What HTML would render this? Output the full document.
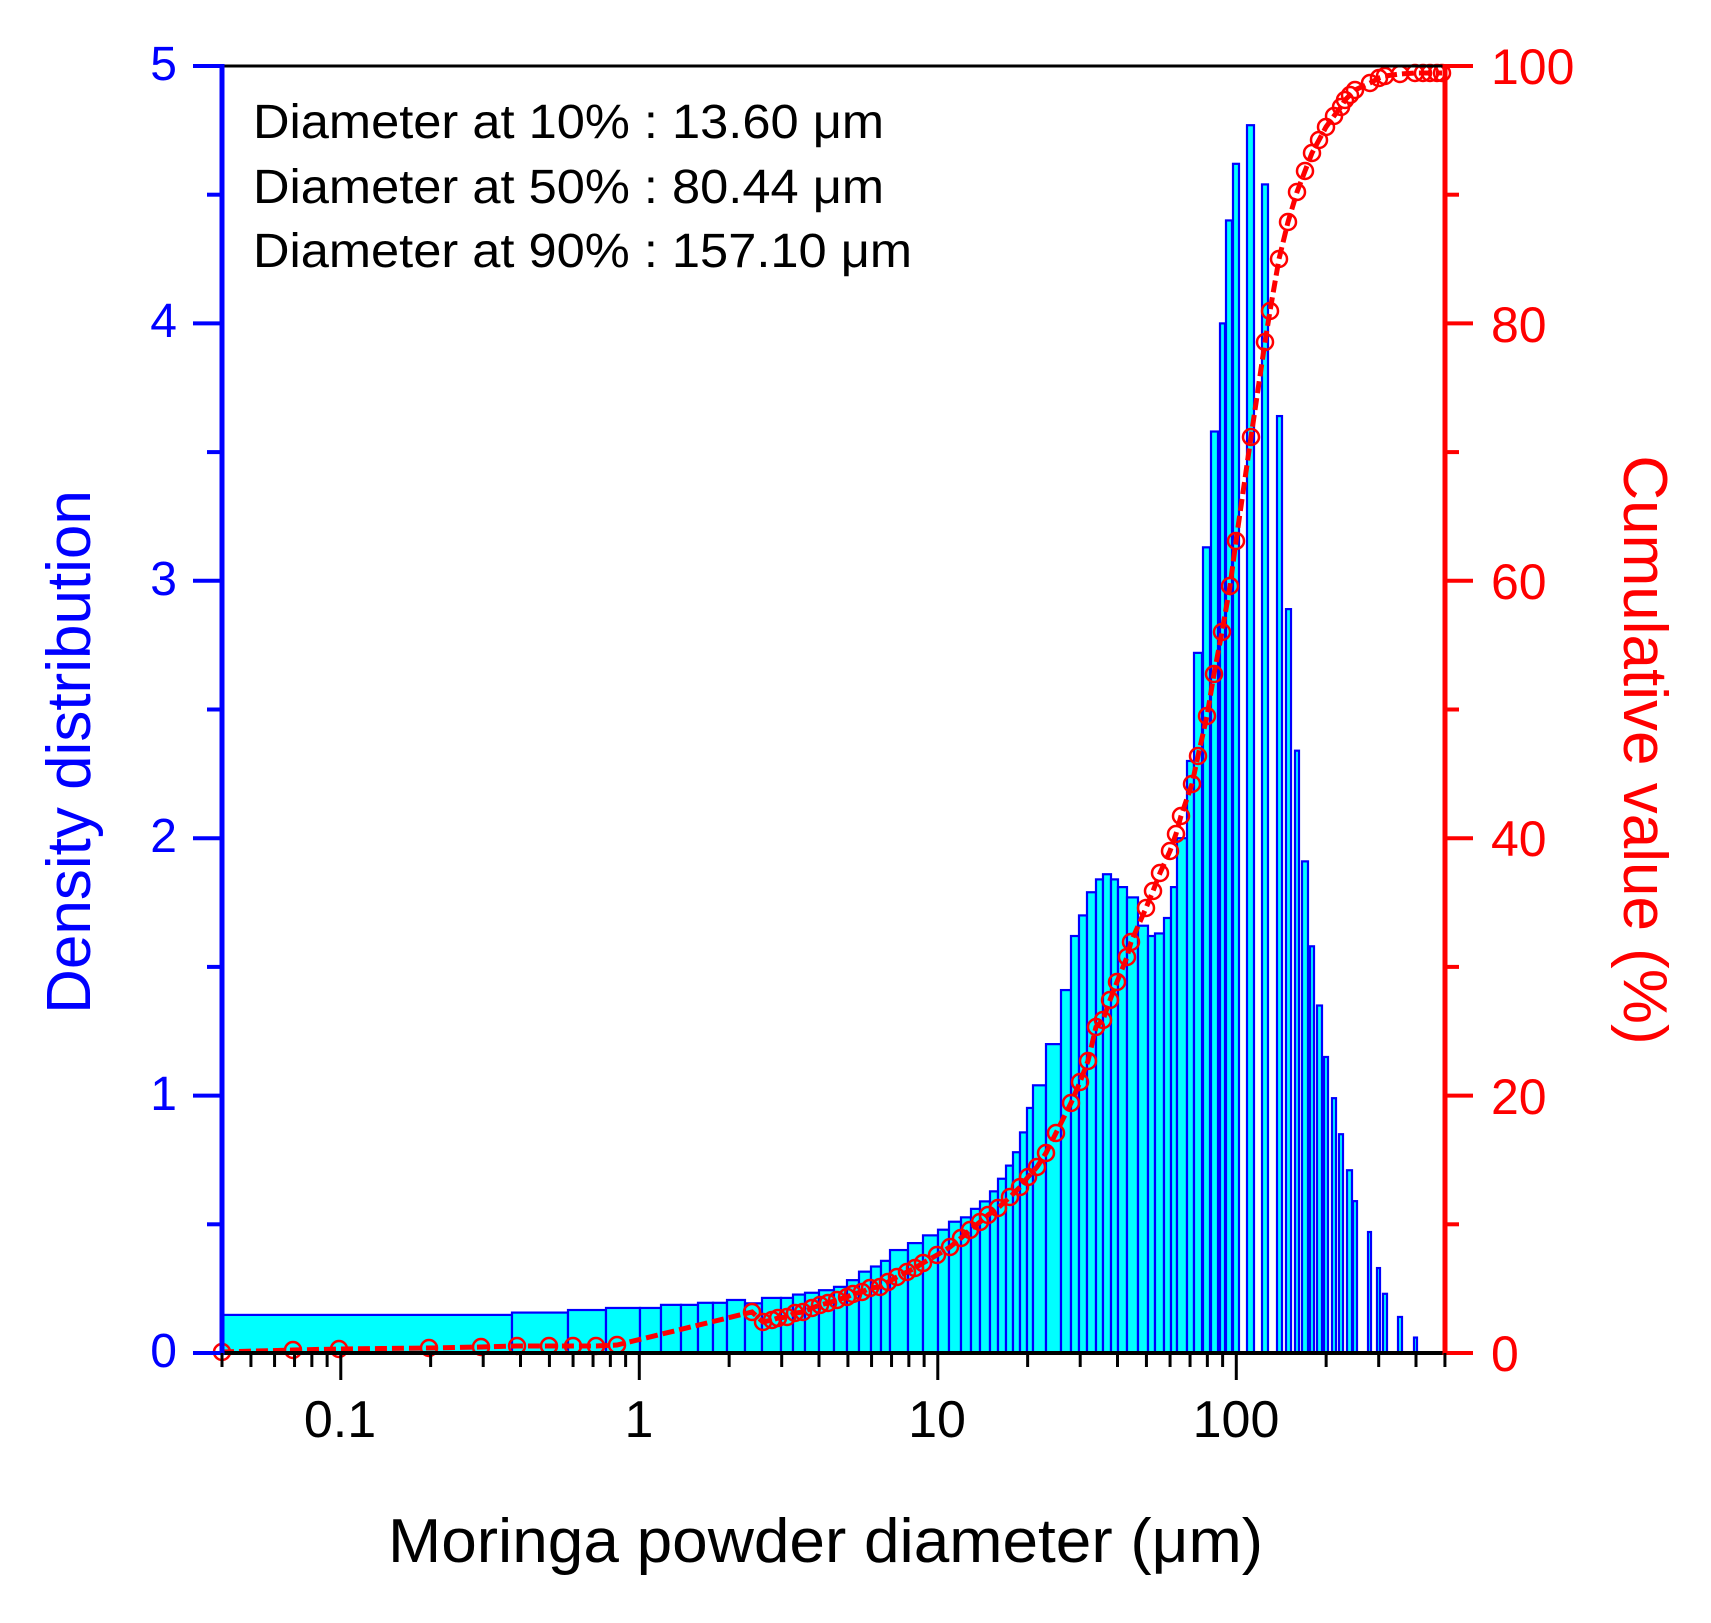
<!DOCTYPE html>
<html><head><meta charset="utf-8"><style>
html,body{margin:0;padding:0;background:#fff}
svg{display:block}
text{font-family:"Liberation Sans",Arial,sans-serif}
</style></head><body>
<svg id="s" width="1711" height="1623" viewBox="0 0 1711 1623" xmlns="http://www.w3.org/2000/svg">
<g id="bars"></g>
<g id="cum"></g>
<g id="axes"></g>
<text x="253" y="138" font-size="48" fill="#000" textLength="631" lengthAdjust="spacingAndGlyphs">Diameter at 10% : 13.60 μm</text>
<text x="253" y="203" font-size="48" fill="#000" textLength="631" lengthAdjust="spacingAndGlyphs">Diameter at 50% : 80.44 μm</text>
<text x="253" y="267" font-size="48" fill="#000" textLength="659" lengthAdjust="spacingAndGlyphs">Diameter at 90% : 157.10 μm</text>
<g font-size="48" fill="#0000ff" text-anchor="end">
<text x="177" y="1367">0</text><text x="177" y="1110">1</text><text x="177" y="852">2</text><text x="177" y="595">3</text><text x="177" y="337">4</text><text x="177" y="80">5</text>
</g>
<g font-size="50" fill="#ff0000">
<text x="1491" y="1371">0</text><text x="1491" y="1114">20</text><text x="1491" y="856">40</text><text x="1491" y="599">60</text><text x="1491" y="342">80</text><text x="1491" y="84">100</text>
</g>
<g font-size="52" fill="#000" text-anchor="middle">
<text x="340" y="1437">0.1</text><text x="639" y="1437">1</text><text x="937" y="1437">10</text><text x="1236" y="1437">100</text>
</g>
<text x="388" y="1562" font-size="62" fill="#000" textLength="875" lengthAdjust="spacingAndGlyphs">Moringa powder diameter (μm)</text>
<text transform="translate(90,752) rotate(-90)" font-size="62" fill="#0000ff" text-anchor="middle">Density distribution</text>
<text transform="translate(1624,750) rotate(90)" font-size="62" fill="#ff0000" text-anchor="middle">Cumulative value (%)</text>
</svg>
<script>
var NS="http://www.w3.org/2000/svg";
function el(p,t,a){var e=document.createElementNS(NS,t);for(var k in a)e.setAttribute(k,a[k]);p.appendChild(e);return e;}
var Y0=1353,U=257.4;
var bars=[[222,512,0.148],[512,568,0.157],[568,606,0.167],[606,640,0.175],[640,661,0.175],[661,681,0.187],[681,698,0.187],[698,713,0.195],[713,727,0.195],[727,745,0.206],[745,762,0.193],[762,781,0.214],[781,793,0.214],[793,805,0.227],[805,819,0.234],[819,834,0.244],[834,847,0.257],[847,859,0.283],[859,871,0.316],[871,881,0.336],[881,890,0.358],[890,908,0.40],[908,923,0.427],[923,938,0.457],[938,949,0.479],[949,961,0.51],[961,971,0.527],[971,980,0.56],[980,990,0.589],[990,998,0.628],[998,1006,0.677],[1006,1013,0.728],[1013,1020,0.78],[1020,1027,0.857],[1027,1033,0.952],[1033,1046,1.04],[1046,1061,1.20],[1061,1071,1.41],[1071,1079,1.62],[1079,1087,1.70],[1087,1096,1.79],[1096,1103,1.84],[1103,1111,1.86],[1111,1118,1.84],[1118,1127,1.81],[1127,1138,1.77],[1138,1148,1.66],[1148,1155,1.62],[1155,1164,1.63],[1164,1171,1.69],[1171,1177,1.81],[1177,1187,2.0],[1187,1194,2.30],[1194,1202,2.72],[1203,1210,3.13],[1211,1218,3.58],[1220,1225,4.0],[1226,1232,4.40],[1233,1239,4.62],[1247,1254,4.77],[1262,1268,4.54],[1277,1282,3.64],[1286,1291,2.89],[1295,1299,2.34],[1302,1308,1.91],[1310,1314,1.58],[1317,1322,1.35],[1324,1328,1.15],[1332,1336,0.99],[1339,1343,0.85],[1347,1352,0.71],[1353,1357,0.59],[1368,1371,0.47],[1377,1380,0.33],[1383,1387,0.23],[1398,1402,0.14],[1414,1417,0.06]];
var gb=document.getElementById("bars");
bars.forEach(function(b){var h=b[2]*U;el(gb,"rect",{x:b[0],y:Y0-h,width:b[1]-b[0],height:h,fill:"#00ffff",stroke:"#0000ff","stroke-width":2.2});});
var pts=[[222,1352],[293,1350],[339,1349],[429,1348],[481,1347],[517,1346],[549,1346],[573,1346],[596,1346],[617,1345],[752,1312],[763,1322],[772,1320],[778,1318],[787,1317],[795,1313],[803,1312],[812,1308],[820,1305],[828,1303],[837,1300],[847,1297],[853,1294],[862,1292],[870,1288],[880,1287],[888,1282],[897,1277],[907,1272],[915,1268],[923,1263],[937,1255],[950,1247],[961,1238],[970,1230],[980,1222],[988,1215],[998,1208],[1010,1197],[1020,1187],[1028,1177],[1037,1167],[1046,1153],[1056,1133],[1071,1103],[1080,1082],[1088,1061],[1096,1027],[1103,1020],[1110,1000],[1117,982],[1127,957],[1131,942],[1146,908],[1153,891],[1160,873],[1170,851],[1176,834],[1181,816],[1192,784],[1198,756],[1207,716],[1214,674],[1222,632],[1230,586],[1236,541],[1251,437],[1265,342],[1270,311],[1279,259],[1288,222],[1297,192],[1305,171],[1312,153],[1319,140],[1326,127],[1334,116],[1341,107],[1345,100],[1350,95],[1355,90],[1370,83],[1379,78],[1385,76],[1400,74],[1415,73],[1423,73],[1430,73],[1437,73],[1442,73]];
var gc=document.getElementById("cum");
el(gc,"polyline",{points:pts.map(function(p){return p.join(",")}).join(" "),fill:"none",stroke:"#ff0000","stroke-width":5,"stroke-dasharray":"12 5"});
pts.forEach(function(p){el(gc,"circle",{cx:p[0],cy:p[1],r:8,fill:"none",stroke:"#ff0000","stroke-width":2.5});});
var ga=document.getElementById("axes");
function ln(x1,y1,x2,y2,c,w){el(ga,"line",{x1:x1,y1:y1,x2:x2,y2:y2,stroke:c,"stroke-width":w});}
ln(222,66,1445,66,"#000",3);
ln(220,1353,1447,1353,"#000",4);
ln(222,64,222,1355,"#0000ff",5);
ln(1445,64,1445,1355,"#ff0000",5);
for(var i=0;i<=10;i++){var y=Y0-i*U/2;ln(i%2?207:193,y,222,y,"#0000ff",4);}
for(var i=0;i<=10;i++){var y=Y0-i*(1287/10);ln(1445,y,i%2?1459:1473,y,"#ff0000",4);}
var x0=222,dec=298.5,lmin=Math.log10(0.04);
function X(v){return x0+(Math.log10(v)-lmin)*dec;}
[0.01,0.1,1,10,100].forEach(function(d){for(var m=1;m<=9;m++){var v=d*m;if(v<0.0399||v>500.1)continue;ln(X(v),1353,X(v),m==1?1380:1367,"#000",3);}});
</script>
</body></html>
